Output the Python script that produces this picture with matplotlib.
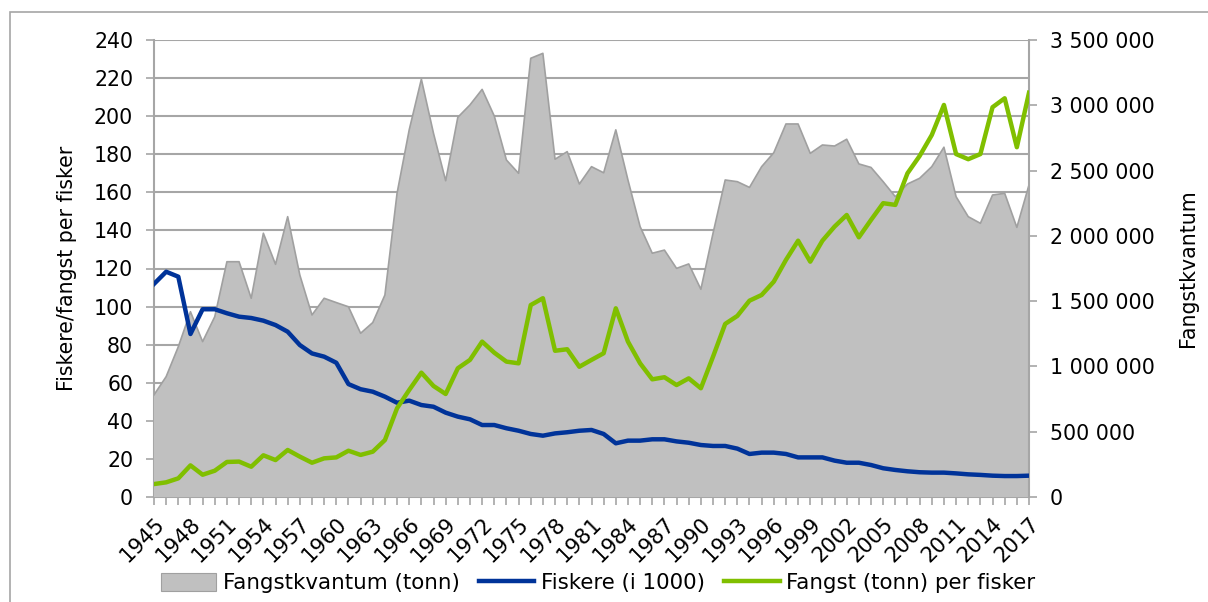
import matplotlib
matplotlib.use("Agg")
import matplotlib.pyplot as plt
from matplotlib.ticker import FuncFormatter, MultipleLocator
from matplotlib.patches import Rectangle, Patch

plt.rcParams['font.family'] = ['DejaVu Sans']

years = list(range(1945, 2018))

fangstkvantum = [
    782000, 922000, 1151000, 1419000, 1190000, 1381000, 1802000, 1802000, 1522000, 2020000,
    1782000, 2147000, 1700000, 1394000, 1522000, 1489000, 1457000, 1254000, 1336000, 1547000,
    2326000, 2812000, 3200000, 2785000, 2422000, 2908000, 3003000, 3122000, 2918000, 2581000,
    2479000, 3360000, 3398000, 2587000, 2645000, 2397000, 2530000, 2483000, 2812000, 2428000,
    2071000, 1867000, 1891000, 1751000, 1785000, 1591000, 2020000, 2428000, 2415000, 2371000,
    2530000, 2637000, 2857000, 2857000, 2632000, 2696000, 2688000, 2740000, 2551000, 2524000,
    2415000, 2300000, 2397000, 2441000, 2530000, 2679000, 2300000, 2147000, 2096000, 2313000,
    2326000, 2065000, 2390000,
]

fiskere = [
    111.9, 118.3, 115.7, 85.6, 98.6, 98.6, 96.5, 94.7, 94.0, 92.6,
    90.3, 86.8, 79.8, 75.4, 73.7, 70.5, 59.3, 56.6, 55.3, 52.7,
    49.5, 50.6, 48.3, 47.4, 44.3, 42.2, 40.8, 37.8, 37.8, 36.1,
    34.8, 33.1, 32.2, 33.4, 34.0, 34.8, 35.2, 33.1, 28.2, 29.6,
    29.6, 30.3, 30.3, 29.2, 28.5, 27.3, 26.8, 26.8, 25.4, 22.6,
    23.3, 23.3, 22.6, 20.8, 20.8, 20.8, 19.1, 18.0, 18.0, 16.8,
    15.1, 14.2, 13.5, 13.0, 12.8, 12.8, 12.4, 11.9, 11.6, 11.2,
    11.0, 11.0, 11.2,
]

fangst_per_fisker = [
    6.8, 7.7, 9.8, 16.6, 11.7, 13.8, 18.4, 18.6, 15.9, 21.9,
    19.4, 24.7, 21.2, 18.0, 20.3, 20.8, 24.3, 22.1, 23.8, 29.9,
    46.6, 56.2, 65.3, 58.3, 54.1, 67.6, 72.0, 81.6, 75.8, 71.1,
    70.2, 100.8, 104.4, 76.8, 77.6, 68.4, 72.0, 75.5, 99.1, 81.6,
    70.2, 61.8, 62.9, 58.8, 62.3, 57.1, 73.7, 90.9, 95.1, 103.1,
    106.1, 113.1, 124.5, 134.6, 123.6, 134.6, 142.0, 148.1, 136.4, 145.5,
    154.3, 153.4, 170.0, 179.1, 190.1, 205.9, 180.1, 177.4, 180.1, 204.7,
    209.4, 183.7, 212.3,
]

label_years = years[::3]
series_names = ['Fangstkvantum (tonn)', 'Fiskere (i 1000)', 'Fangst (tonn) per fisker']

FS = 14.8
GRID = '#a6a6a6'
AREA = '#c0c0c0'
AREA_EDGE = '#a0a0a0'
BLUE = '#003399'
GREEN = '#80bf00'

fig = plt.figure(figsize=(12.08, 6.02), dpi=100)
fig.patch.set_facecolor('white')

# chart-area border
fig.patches.append(Rectangle((10 / 1208, -0.05), 1.1, 1 - 12 / 602 + 0.05,
                             transform=fig.transFigure, fill=False,
                             edgecolor='#a6a6a6', linewidth=1.2))

pos = [154 / 1208, 1 - 497 / 602, (1029 - 154) / 1208, (497 - 40) / 602]

# base axis: left scale, grid
ax = fig.add_axes(pos)
ax.set_xlim(years[0], years[-1])
ax.set_ylim(0, 240)
ax.yaxis.set_major_locator(MultipleLocator(20))
ax.grid(axis='y', color=GRID, linewidth=1.5)
ax.set_axisbelow(True)
for s in ['top', 'right']:
    ax.spines[s].set_visible(False)
for s in ['left', 'bottom']:
    ax.spines[s].set_color(GRID)
    ax.spines[s].set_linewidth(1.5)
ax.tick_params(axis='y', which='both', length=6, width=1.2, color=GRID,
               labelsize=FS, pad=9)
ax.set_xticks(label_years)
ax.set_xticklabels([str(y) for y in label_years], rotation=45, ha='right',
                   rotation_mode='anchor', fontsize=FS + 0.4)
ax.set_xticks(years, minor=True)
ax.tick_params(axis='x', which='both', length=6, width=1.2, color=GRID, pad=6)
ax.set_ylabel('Fiskere/fangst per fisker', fontsize=FS, labelpad=12)

# right axis: area
ax2 = ax.twinx()
ax2.set_ylim(0, 3500000)
ax2.yaxis.set_major_locator(MultipleLocator(500000))
ax2.yaxis.set_major_formatter(FuncFormatter(lambda v, p: format(int(round(v)), ',').replace(',', ' ')))
ax2.fill_between(years, fangstkvantum, 0, facecolor=AREA, edgecolor='none',
                 label=series_names[0])
ax2.plot(years, fangstkvantum, color=AREA_EDGE, linewidth=1.2)
ax2.patch.set_visible(False)
for s in ['top', 'left', 'bottom']:
    ax2.spines[s].set_visible(False)
ax2.spines['right'].set_color(GRID)
ax2.spines['right'].set_linewidth(1.5)
ax2.tick_params(axis='y', length=6, width=1.2, color=GRID, labelsize=FS, pad=9)
ax2.set_ylabel('Fangstkvantum', fontsize=FS, labelpad=17)

# lines axis sharing left scale
ax3 = fig.add_axes(pos, sharex=ax, sharey=ax)
ax3.axis('off')
ax3.patch.set_visible(False)
ax3.plot(years, fiskere, color=BLUE, linewidth=3.2, label=series_names[1],
         solid_joinstyle='round')
ax3.plot(years, fangst_per_fisker, color=GREEN, linewidth=3.2,
         label=series_names[2], solid_joinstyle='round')

handles = [Patch(facecolor=AREA, edgecolor=AREA_EDGE, linewidth=0.8)] + ax3.get_lines()
fig.legend(handles, series_names, loc='center', bbox_to_anchor=(598 / 1208, 1 - 583 / 602),
           ncol=3, frameon=False, fontsize=FS + 0.6, handlelength=2.6, handleheight=0.9,
           handletextpad=0.3, columnspacing=0.9)

fig.savefig('out.png', dpi=100)
